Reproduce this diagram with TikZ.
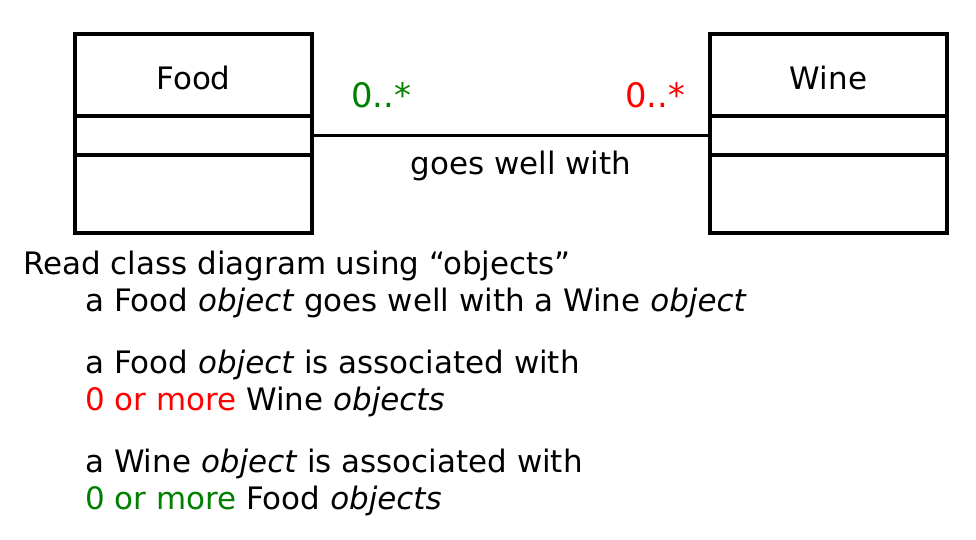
\documentclass[tikz,border=0pt]{standalone}
\usepackage{fontspec}
\setmainfont{DejaVu Sans}
\usepackage{tikz}
\usetikzlibrary{positioning,fit}
\usepackage{xcolor}
\definecolor{umlGreen}{HTML}{008000}
\definecolor{umlRed}{HTML}{FF0000}
\tikzset{
  compart/.style={draw=black, line width=2.2pt, minimum width=5.925cm, inner sep=0pt, outer sep=0pt, font=\fontsize{22}{27}\selectfont},
  classname/.style={compart, minimum height=2.05cm, text height=0.74cm, text depth=0pt},
  frame/.style={draw=black, line width=3pt, inner sep=0pt},
  assoc/.style={draw=black, line width=2.2pt},
  mult/.style={font=\fontsize{24}{29}\selectfont, inner sep=0pt},
  rolename/.style={font=\fontsize{22}{27}\selectfont, inner sep=0pt},
  txt/.style={anchor=base west, inner sep=0pt, font=\fontsize{22}{27}\selectfont}
}
\begin{document}
\begin{tikzpicture}[x=0.025cm,y=-0.025cm]
  \useasboundingbox (0,0) rectangle (976,540);

  % Food class
  \node[classname] (foodname) at (193.5,75) {Food};
  \node[compart, minimum height=0.975cm, below=0pt of foodname] (foodattr) {};
  \node[compart, minimum height=1.95cm, below=0pt of foodattr] (foodops) {};
  \node[frame, fit=(foodname)(foodops)] (food) {};

  % Wine class
  \node[classname] (winename) at (828.5,75) {Wine};
  \node[compart, minimum height=0.975cm, below=0pt of winename] (wineattr) {};
  \node[compart, minimum height=1.95cm, below=0pt of wineattr] (wineops) {};
  \node[frame, fit=(winename)(wineops)] (wine) {};

  \draw[assoc] (foodattr.east) -- (wineattr.west);
  \node[mult, text=umlGreen] (multfood) at (381,95) {0..*};
  \node[mult, text=umlRed] (multwine) at (655,95) {0..*};
  \node[rolename] (assocname) at (521,166) {goes well with};

  % reading notes
  \node[txt] (read) at (23,274) {Read class diagram using “objects”};
  \node[txt] (line1) at (85,311) {a Food \textit{object} goes well with a Wine \textit{object}};
  \node[txt] (line2) at (85,373) {a Food \textit{object} is associated with};
  \node[txt] (line3) at (85,410) {\textcolor{umlRed}{0 or more} Wine \textit{objects}};
  \node[txt] (line4) at (85,472) {a Wine \textit{object} is associated with};
  \node[txt] (line5) at (85,509) {\textcolor{umlGreen}{0 or more} Food \textit{objects}};
\end{tikzpicture}
\end{document}
